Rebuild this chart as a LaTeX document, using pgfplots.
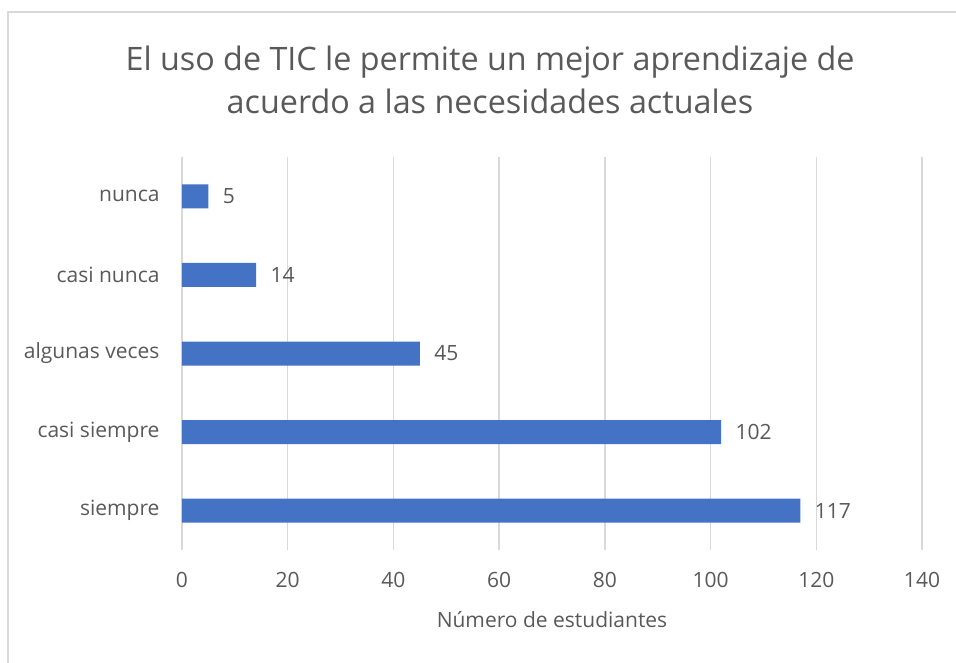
\documentclass[border=0pt]{standalone}
\usepackage{pgfplots}
\pgfplotsset{compat=1.18}
\usepackage{fontspec}
\setmainfont{Open Sans}
\definecolor{barblue}{HTML}{4472C4}
\definecolor{txtgray}{HTML}{595959}
\definecolor{gridgray}{HTML}{D9D9D9}
\begin{document}
\begin{tikzpicture}
\useasboundingbox (0pt,0pt) rectangle (956pt,662pt);
\draw[gridgray,line width=2pt] (8pt,-20pt) -- (8pt,650pt) -- (980pt,650pt);
\node[text=txtgray,align=center,font=\fontsize{32.3}{43}\selectfont] at (490pt,582pt) {El uso de TIC le permite un mejor aprendizaje de\\acuerdo a las necesidades actuales};
\begin{axis}[
  at={(182pt,112pt)}, anchor=south west,
  scale only axis, width=740pt, height=393pt,
  xmin=0, xmax=140, ymin=-0.5, ymax=4.5,
  xtick={0,20,...,140},
  ytick={0,1,2,3,4},
  yticklabels={siempre,casi siempre,algunas veces,casi nunca,nunca},
  axis line style={draw=none},
  major tick length=0pt,
  xmajorgrids, grid style={gridgray,line width=1.5pt},
  tick label style={text=txtgray,font=\fontsize{21}{24}\selectfont},
  yticklabel style={xshift=-19pt},
  xticklabel style={yshift=-19pt},
  xlabel={Número de estudiantes},
  xlabel style={text=txtgray,font=\fontsize{21}{24}\selectfont, yshift=-17pt},
  /pgf/number format/assume math mode=true,
  clip=false,
]
\addplot[xbar, bar width=24pt, fill=barblue, draw=none,
  nodes near coords, nodes near coords align={horizontal},
  every node near coord/.append style={text=txtgray,font=\fontsize{21}{24}\selectfont, xshift=11pt}]
  coordinates {(117,0) (102,1) (45,2) (14,3) (5,4)};
\end{axis}
\end{tikzpicture}
\end{document}
